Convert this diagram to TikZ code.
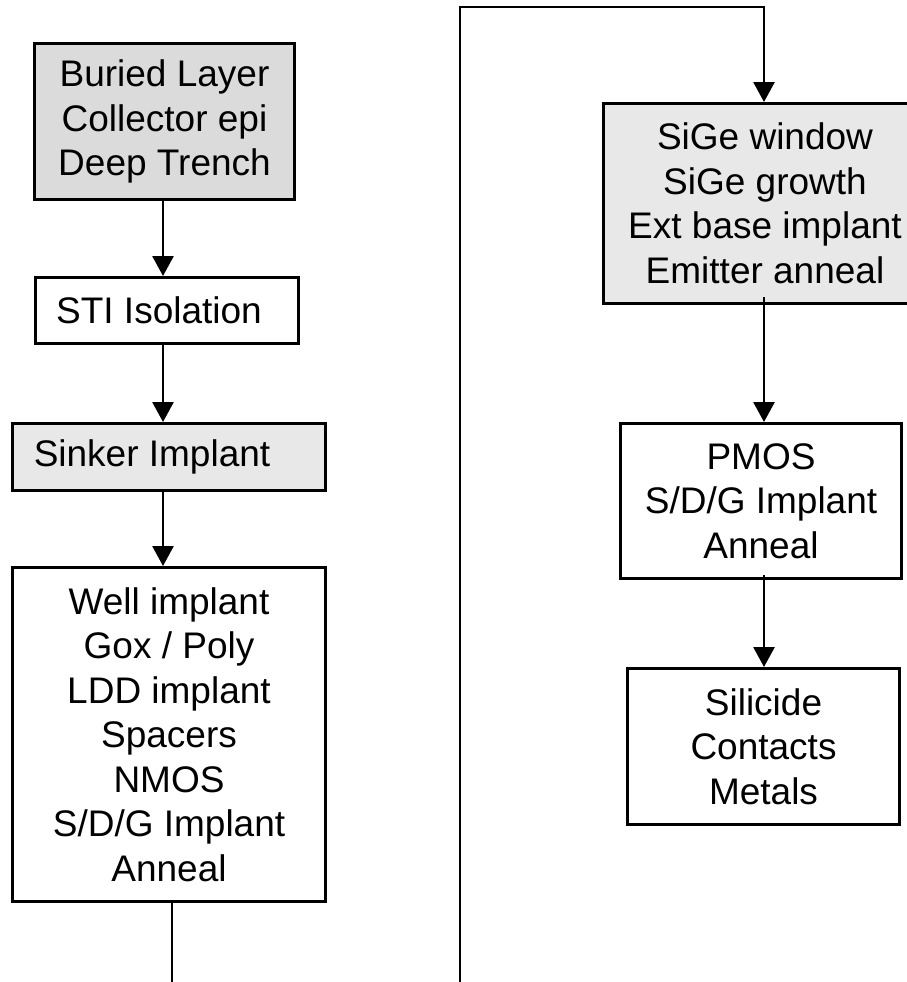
\documentclass[tikz,border=0pt]{standalone}
\usepackage{fontspec}
\setmainfont{Liberation Sans}
\usetikzlibrary{arrows.meta}

\tikzset{
  box/.style={draw=black, line width=3pt, rectangle, inner sep=0pt,
    align=center, font=\fontsize{37}{44.5}\selectfont},
  darkfill/.style={fill=gray!28},
  lightfill/.style={fill=gray!18},
  link/.style={draw=black, line width=2.8pt},
  arr/.style={link, -{Triangle[length=20pt, width=21pt]}},
}

\begin{document}
\begin{tikzpicture}[x=1pt, y=-1pt]
  \useasboundingbox (0,0) rectangle (907,982);
  \clip (0,0) rectangle (907,982);

  % guide columns for the vertical connectors
  \coordinate (lcol) at (163,0);
  \coordinate (rcol) at (764,0);

  % left column: front-end steps
  \node (b1) [box, darkfill, minimum width=260pt, minimum height=156pt] at (164.5,121.5)
    {Buried Layer\\Collector epi\\Deep Trench};
  \node (b2) [box, minimum width=263pt, minimum height=66pt] at (167,310.5)
    {\hspace*{-16pt}STI Isolation};
  \node (b3) [box, lightfill, minimum width=313pt, minimum height=67pt] at (169,457)
    {\hspace*{-34pt}Sinker Implant};
  \node (b4) [box, minimum width=313pt, minimum height=334pt] at (169,734.5)
    {Well implant\\Gox / Poly\\LDD implant\\Spacers\\NMOS\\S/D/G Implant\\Anneal};

  % right column: bipolar and back-end steps
  \node (b5) [box, lightfill, minimum width=324pt, minimum height=200pt] at (765,203.5)
    {SiGe window\\SiGe growth\\Ext base implant\\Emitter anneal};
  \node (b6) [box, minimum width=281pt, minimum height=155pt] at (761,501)
    {PMOS\\S/D/G Implant\\Anneal};
  \node (b7) [box, minimum width=272pt, minimum height=156pt] at (763.5,746.5)
    {Silicide\\Contacts\\Metals};

  % left column flow
  \draw[arr] (b1.south -| lcol) -- (b2.north -| lcol);
  \draw[arr] (b2.south -| lcol) -- (b3.north -| lcol);
  \draw[arr] (b3.south -| lcol) -- (b4.north -| lcol);
  \coordinate (lout) at (172,984);
  \draw[link] (b4.south -| lout) -- (lout);

  % continuation into the right column
  \coordinate (rin) at (460,984);
  \coordinate (rtopl) at (460,7);
  \coordinate (rtopr) at (764,7);
  \draw[arr, line join=miter] (rin) -- (rtopl) -- (rtopr) -- (b5.north -| rcol);

  % right column flow
  \draw[arr] ([yshift=8pt]b5.south -| rcol) -- (b6.north -| rcol);
  \draw[arr] ([yshift=5pt]b6.south -| rcol) -- (b7.north -| rcol);
\end{tikzpicture}
\end{document}
